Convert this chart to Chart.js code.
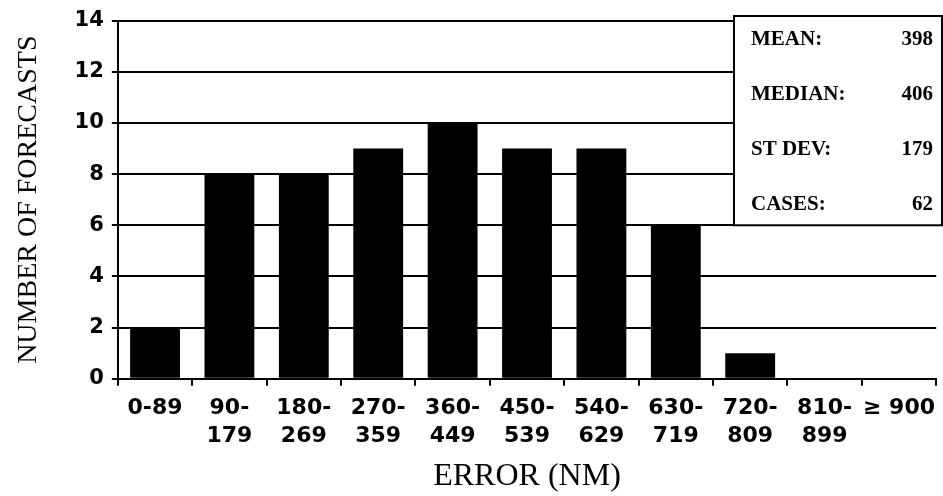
<!DOCTYPE html>
<html>
<head>
<meta charset="utf-8">
<script src="https://cdn.jsdelivr.net/npm/chart.js@4.4.0/dist/chart.umd.min.js"></script>
<style>
  body { margin: 0; background: #fff; }
  canvas { display: block; }
</style>
</head>
<body>
<canvas id="errChart" width="943" height="496"></canvas>
<script>
// histogram data - forecast error bins (nautical miles)
var binLabels = [['0-89'], ['90-', '179'], ['180-', '269'], ['270-', '359'], ['360-', '449'],
                 ['450-', '539'], ['540-', '629'], ['630-', '719'], ['720-', '809'], ['810-', '899'], ['\u2265 900']];
var forecastCounts = [2, 8, 8, 9, 10, 9, 9, 6, 1, 0, 0];

// summary numbers shown in the box
var statNames = ['MEAN:', 'MEDIAN:', 'ST DEV:', 'CASES:'];
var statValues = ['398', '406', '179', '62'];

var yTicksMax = 14;
var yTicksStep = 2;

// box with the summary stats, drawn over top right of the plot
var statsBox = {
    id: 'statsBox',
    afterDraw: function (chart) {
        var ctx = chart.ctx;
        var yScale = chart.scales.y;
        var left = 734, top = 16;
        var right = 942, bottom = yScale.getPixelForValue(6);
        ctx.save();
        ctx.fillStyle = '#fff';
        ctx.fillRect(left, top, right - left, bottom - top);
        ctx.strokeStyle = '#000';
        ctx.lineWidth = 2;
        ctx.strokeRect(left, top, right - left, bottom - top);
        ctx.fillStyle = '#000';
        ctx.font = 'bold 21px "Liberation Serif", serif';
        ctx.textBaseline = 'middle';
        for (var i = 0; i < statNames.length; i++) {
            var cy = top + 24 + i * 55;
            ctx.textAlign = 'left';
            ctx.fillText(statNames[i], left + 17, cy);
            ctx.textAlign = 'right';
            ctx.fillText(statValues[i], right - 9, cy);
        }
        ctx.restore();
    }
};

var ctx = document.getElementById('errChart');

var errChart = new Chart(ctx, {
    type: 'bar',
    data: {
        labels: binLabels,
        datasets: [{
            label: 'Number of forecasts',
            data: forecastCounts,
            backgroundColor: '#000',
            borderWidth: 0,
            barPercentage: 0.67,
            categoryPercentage: 1.0
        }]
    },
    options: {
        responsive: false,
        animation: false,
        devicePixelRatio: 1,
        layout: { padding: { top: 12, right: 0, left: 12, bottom: 3 } },
        plugins: {
            legend: { display: false },
            tooltip: { enabled: false }
        },
        scales: {
            x: {
                offset: true,
                grid: {
                    display: true,
                    drawOnChartArea: false,
                    drawTicks: true,
                    tickLength: 7,
                    color: '#000',
                    lineWidth: 2
                },
                border: { display: true, color: '#000', width: 2 },
                ticks: {
                    color: '#000',
                    maxRotation: 0,
                    autoSkip: false,
                    padding: 8,
                    font: { family: '"DejaVu Sans", sans-serif', weight: 'bold', size: 22, lineHeight: 1.3 }
                },
                title: {
                    display: true,
                    text: 'ERROR (NM)',
                    color: '#000',
                    padding: { top: 2, bottom: 0 },
                    font: { family: '"Liberation Serif", serif', size: 32, lineHeight: 1.0 }
                }
            },
            y: {
                min: 0,
                max: yTicksMax,
                grid: {
                    color: '#000',
                    lineWidth: 2,
                    drawTicks: true,
                    tickLength: 6
                },
                border: { display: true, color: '#000', width: 2 },
                ticks: {
                    stepSize: yTicksStep,
                    color: '#000',
                    padding: 8,
                    font: { family: '"DejaVu Sans", sans-serif', weight: 'bold', size: 21 }
                },
                title: {
                    display: true,
                    text: 'NUMBER OF FORECASTS',
                    color: '#000',
                    padding: { top: 0, bottom: 21 },
                    font: { family: '"Liberation Serif", serif', size: 28 }
                }
            }
        }
    },
    plugins: [statsBox]
});
</script>
</body>
</html>
